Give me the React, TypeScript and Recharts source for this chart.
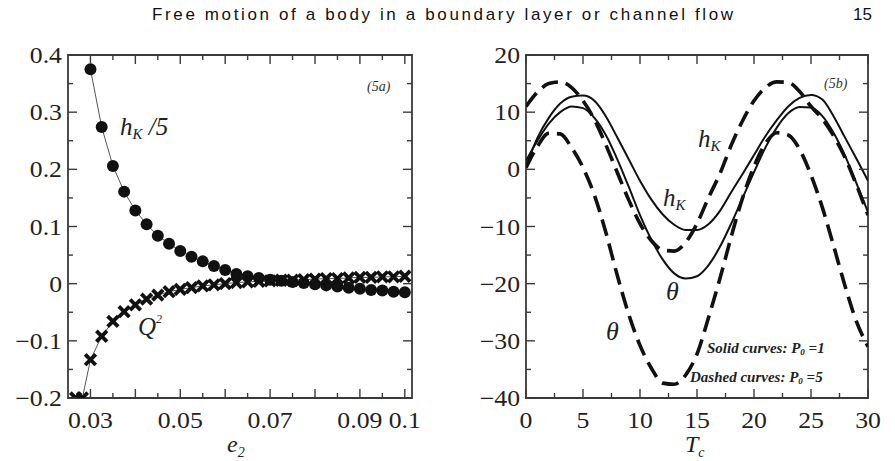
import React from 'react';
import { LineChart, Line, XAxis, YAxis, ReferenceArea } from 'recharts';

// ---------- Panel (5a) data ----------
const e2Circles = [0.03, 0.0325, 0.035, 0.0375, 0.04, 0.0425, 0.045, 0.0475, 0.05, 0.0525, 0.055, 0.0575, 0.06, 0.0625, 0.065, 0.0675, 0.07, 0.0725, 0.075, 0.0775, 0.08, 0.0825, 0.085, 0.0875, 0.09, 0.0925, 0.095, 0.0975, 0.1];
const hKOver5 = [0.375, 0.274, 0.206, 0.161, 0.128, 0.104, 0.084, 0.07, 0.057, 0.047, 0.039, 0.031, 0.024, 0.017, 0.013, 0.01, 0.007, 0.005, 0.003, 0.001, -0.001, -0.003, -0.005, -0.007, -0.009, -0.011, -0.012, -0.014, -0.015];
const e2Crosses = [0.0267, 0.0282, 0.03, 0.0325, 0.035, 0.0375, 0.04, 0.0425, 0.045, 0.0475, 0.05, 0.0525, 0.055, 0.0575, 0.06, 0.0625, 0.065, 0.0675, 0.07, 0.0725, 0.075, 0.0775, 0.08, 0.0825, 0.085, 0.0875, 0.09, 0.0925, 0.095, 0.0975, 0.1];
const Q2 = [-0.2, -0.2, -0.133, -0.092, -0.066, -0.049, -0.037, -0.027, -0.02, -0.014, -0.01, -0.007, -0.004, -0.002, 0.0, 0.002, 0.003, 0.004, 0.005, 0.006, 0.006, 0.007, 0.008, 0.009, 0.009, 0.01, 0.011, 0.011, 0.012, 0.012, 0.013];

const e2Ticks = [0.03, 0.035, 0.04, 0.045, 0.05, 0.055, 0.06, 0.065, 0.07, 0.075, 0.08, 0.085, 0.09, 0.095, 0.1];
const e2MajorTicks = [0.03, 0.04, 0.05, 0.06, 0.07, 0.08, 0.09, 0.1];
const e2LabelledTicks = [0.03, 0.05, 0.07, 0.09, 0.1];
const e2TickLabels = ['0.03', '0.05', '0.07', '0.09', '0.1'];
const leftYTicks = [-0.2, -0.15, -0.1, -0.05, 0, 0.05, 0.1, 0.15, 0.2, 0.25, 0.3, 0.35, 0.4];
const leftYMajor = [-0.2, -0.1, 0, 0.1, 0.2, 0.3, 0.4];
const leftYLabels = ['−0.2', '−0.1', '0', '0.1', '0.2', '0.3', '0.4'];

// ---------- Panel (5b) data ----------
const Tc = [0, 1, 2, 3, 4, 5, 6, 7, 8, 9, 10, 11, 12, 13, 14, 15, 16, 17, 18, 19, 20, 21, 22, 23, 24, 25, 26, 27, 28, 29, 30];
const hKSolid = [0.5, 5.5, 9, 11.5, 12.7, 12.9, 12, 9.3, 5.6, 1.8, -2, -5.3, -7.9, -9.7, -10.6, -10.6, -9.6, -7.3, -4, -0.8, 2.5, 5.8, 8.6, 11, 12.5, 13, 12.2, 9.2, 5.5, 1.8, -2];
const thetaSolid = [1.5, 5, 8, 10, 11, 10.7, 9, 6, 1.8, -3, -8, -12.3, -15.8, -18.2, -19.1, -18.7, -16.8, -13.6, -9.5, -5, -0.5, 3.8, 7.3, 9.8, 10.9, 10.8, 9.3, 6.3, 2.3, -2.5, -7.5];
const hKDashed = [11, 13.5, 15, 15.3, 14.3, 12, 8.7, 4.3, -0.5, -5.3, -9.5, -12.5, -14.1, -14.3, -12.8, -9.5, -5, -0.8, 4.2, 8.5, 12, 14.3, 15.3, 15.2, 13.6, 11, 8.8, 5.8, 2, -2.8, -8];
const thetaDashed = [0.3, 4, 6.3, 6.2, 3.8, 0.3, -4.5, -11, -18.5, -25.3, -30.8, -34.8, -37.4, -37.6, -36, -32.3, -26, -19.2, -11.8, -5, 0.5, 4.5, 6.4, 6, 3.5, -1, -6.7, -13.5, -20.5, -26.7, -31];

const tcTicks = [0, 2.5, 5, 7.5, 10, 12.5, 15, 17.5, 20, 22.5, 25, 27.5, 30];
const tcMajor = [0, 5, 10, 15, 20, 25, 30];
const tcLabels = ['0', '5', '10', '15', '20', '25', '30'];
const rightYTicks = [-40, -35, -30, -25, -20, -15, -10, -5, 0, 5, 10, 15, 20];
const rightYMajor = [-40, -30, -20, -10, 0, 10, 20];
const rightYLabels = ['−40', '−30', '−20', '−10', '0', '10', '20'];

// ---------- helpers ----------
const AXIS = '#3a3a3a';
const SERIF = 'Liberation Serif, serif';
const near = (a: number, b: number) => Math.abs(a - b) < 1e-9;

type Box = { left: number; right: number; top: number; bottom: number };

function makeXTick(box: Box, majors: number[], labelled: number[], labels: string[]) {
  return (props: any) => {
    const { x, payload } = props;
    const v = payload.value;
    const len = majors.some((m) => near(m, v)) ? 9 : 5;
    const li = labelled.findIndex((m) => near(m, v));
    return (
      <g>
        <line x1={x} x2={x} y1={box.bottom} y2={box.bottom - len} stroke={AXIS} strokeWidth={1.4} />
        <line x1={x} x2={x} y1={box.top} y2={box.top + len} stroke={AXIS} strokeWidth={1.4} />
        {li >= 0 && (
          <text
            transform={`translate(${x},${box.bottom + 30}) scale(1.12,1)`}
            textAnchor="middle"
            style={{ fontFamily: SERIF, fontSize: 23 }}
            fill="#222"
          >
            {labels[li]}
          </text>
        )}
      </g>
    );
  };
}

function makeYTick(box: Box, majors: number[], labels: string[]) {
  return (props: any) => {
    const { y, payload } = props;
    const v = payload.value;
    const mi = majors.findIndex((m) => near(m, v));
    const len = mi >= 0 ? 9 : 5;
    return (
      <g>
        <line x1={box.left} x2={box.left + len} y1={y} y2={y} stroke={AXIS} strokeWidth={1.4} />
        <line x1={box.right} x2={box.right - len} y1={y} y2={y} stroke={AXIS} strokeWidth={1.4} />
        {mi >= 0 && (
          <text
            transform={`translate(${box.left - 6},${y + 8}) scale(1.12,1)`}
            textAnchor="end"
            style={{ fontFamily: SERIF, fontSize: 23 }}
            fill="#222"
          >
            {labels[mi]}
          </text>
        )}
      </g>
    );
  };
}

const CircleDot = (props: any) => {
  const { cx, cy } = props;
  if (cx == null || cy == null) return null;
  return <circle cx={cx} cy={cy} r={6} fill="#111" />;
};

const CrossDot = (props: any) => {
  const { cx, cy } = props;
  if (cx == null || cy == null) return null;
  const s = 5.3;
  return (
    <g>
      <line x1={cx - s} y1={cy - s} x2={cx + s} y2={cy + s} stroke="#111" strokeWidth={3.8} />
      <line x1={cx - s} y1={cy + s} x2={cx + s} y2={cy - s} stroke="#111" strokeWidth={3.8} />
    </g>
  );
};

const hkRows = e2Circles.map((x, i) => ({ x, y: hKOver5[i] }));
const q2Rows = e2Crosses.map((x, i) => ({ x, y: Q2[i] }));
const rightRows = Tc.map((t, i) => ({
  t,
  hKSolid: hKSolid[i],
  thetaSolid: thetaSolid[i],
  hKDashed: hKDashed[i],
  thetaDashed: thetaDashed[i],
}));

const leftBox: Box = { left: 68, right: 412, top: 55, bottom: 398 };
const rightBox: Box = { left: 86, right: 428, top: 55, bottom: 398 };

const italic = { fontFamily: SERIF, fontStyle: 'italic' as const };

export default function App() {
  return (
    <div style={{ position: 'absolute', left: 0, top: 0, width: 895, height: 461, background: '#fff', overflow: 'hidden' }}>
      <div style={{ position: 'absolute', left: 0, top: 0 }}>
        <LineChart width={440} height={461} margin={{ top: 55, right: 28, bottom: 33, left: 0 }}>
          <XAxis
            dataKey="x"
            type="number"
            domain={[0.025, 0.1016]}
            allowDataOverflow
            ticks={e2Ticks}
            interval={0}
            height={30}
            axisLine={false}
            tickLine={false}
            tick={makeXTick(leftBox, e2MajorTicks, e2LabelledTicks, e2TickLabels)}
          />
          <YAxis
            type="number"
            domain={[-0.2, 0.4]}
            allowDataOverflow
            ticks={leftYTicks}
            interval={0}
            width={68}
            axisLine={false}
            tickLine={false}
            tick={makeYTick(leftBox, leftYMajor, leftYLabels)}
          />
          <ReferenceArea x1={0.025} x2={0.1016} y1={-0.2} y2={0.4} fill="none" stroke={AXIS} strokeWidth={1.8} ifOverflow="visible" />
          <Line data={hkRows} dataKey="y" type="linear" stroke="#555" strokeWidth={1} dot={CircleDot} isAnimationActive={false} />
          <Line data={q2Rows} dataKey="y" type="linear" stroke="#555" strokeWidth={1} dot={CrossDot} isAnimationActive={false} />
        </LineChart>
      </div>
      <div style={{ position: 'absolute', left: 440, top: 0 }}>
        <LineChart width={455} height={461} data={rightRows} margin={{ top: 55, right: 27, bottom: 33, left: 0 }}>
          <XAxis
            dataKey="t"
            type="number"
            domain={[0, 30]}
            allowDataOverflow
            ticks={tcTicks}
            interval={0}
            height={30}
            axisLine={false}
            tickLine={false}
            tick={makeXTick(rightBox, tcMajor, tcMajor, tcLabels)}
          />
          <YAxis
            type="number"
            domain={[-40, 20]}
            allowDataOverflow
            ticks={rightYTicks}
            interval={0}
            width={86}
            axisLine={false}
            tickLine={false}
            tick={makeYTick(rightBox, rightYMajor, rightYLabels)}
          />
          <ReferenceArea x1={0} x2={30} y1={-40} y2={20} fill="none" stroke={AXIS} strokeWidth={1.8} ifOverflow="visible" />
          <Line dataKey="hKSolid" type="monotone" stroke="#111" strokeWidth={2} dot={false} isAnimationActive={false} />
          <Line dataKey="thetaSolid" type="monotone" stroke="#111" strokeWidth={2} dot={false} isAnimationActive={false} />
          <Line dataKey="hKDashed" type="monotone" stroke="#111" strokeWidth={3.6} strokeDasharray="17 8" dot={false} isAnimationActive={false} />
          <Line dataKey="thetaDashed" type="monotone" stroke="#111" strokeWidth={3.6} strokeDasharray="17 8" dot={false} isAnimationActive={false} />
        </LineChart>
      </div>
      <svg width={895} height={461} style={{ position: 'absolute', left: 0, top: 0, pointerEvents: 'none' }}>
        <text x={152} y={20} style={{ fontFamily: 'Liberation Sans, Arial, sans-serif', fontSize: 17 }} fill="#111" textLength={581} lengthAdjust="spacing">
          Free motion of a body in a boundary layer or channel flow
        </text>
        <text x={853} y={20} style={{ fontFamily: 'Liberation Sans, Arial, sans-serif', fontSize: 17 }} fill="#111">15</text>

        {/* panel 5a labels */}
        <text x={367} y={91} style={{ ...italic, fontSize: 14 }} fill="#333">(5a)</text>
        <text x={120} y={135} style={{ ...italic, fontSize: 25 }} fill="#222">
          h<tspan style={{ fontSize: 15 }} dy={4}>K</tspan><tspan dy={-4}> /5</tspan>
        </text>
        <text x={138} y={335} style={{ ...italic, fontSize: 25 }} fill="#222">
          Q<tspan style={{ fontSize: 12 }} dy={-12}>2</tspan>
        </text>
        <text x={227} y={452} style={{ ...italic, fontSize: 24 }} fill="#222">
          e<tspan style={{ fontSize: 14 }} dy={5}>2</tspan>
        </text>

        {/* panel 5b labels */}
        <text x={824} y={88} style={{ ...italic, fontSize: 14 }} fill="#333">(5b)</text>
        <text x={698} y={147} style={{ ...italic, fontSize: 25 }} fill="#222">
          h<tspan style={{ fontSize: 15 }} dy={4}>K</tspan>
        </text>
        <text x={663} y={206} style={{ ...italic, fontSize: 25 }} fill="#222">
          h<tspan style={{ fontSize: 15 }} dy={4}>K</tspan>
        </text>
        <text x={666} y={300} style={{ ...italic, fontSize: 26 }} fill="#222">θ</text>
        <text x={606} y={340} style={{ ...italic, fontSize: 26 }} fill="#222">θ</text>
        <text x={707} y={353} style={{ ...italic, fontWeight: 'bold', fontSize: 15 }} fill="#222">
          Solid curves: P<tspan style={{ fontSize: 9 }} dy={2}>0</tspan><tspan dy={-2}> =1</tspan>
        </text>
        <text x={690} y={382} style={{ ...italic, fontWeight: 'bold', fontSize: 15 }} fill="#222">
          Dashed curves: P<tspan style={{ fontSize: 9 }} dy={2}>0</tspan><tspan dy={-2}> =5</tspan>
        </text>
        <text x={685} y={452} style={{ ...italic, fontSize: 24 }} fill="#222">
          T<tspan style={{ fontSize: 14 }} dy={5}>c</tspan>
        </text>
      </svg>
    </div>
  );
}
